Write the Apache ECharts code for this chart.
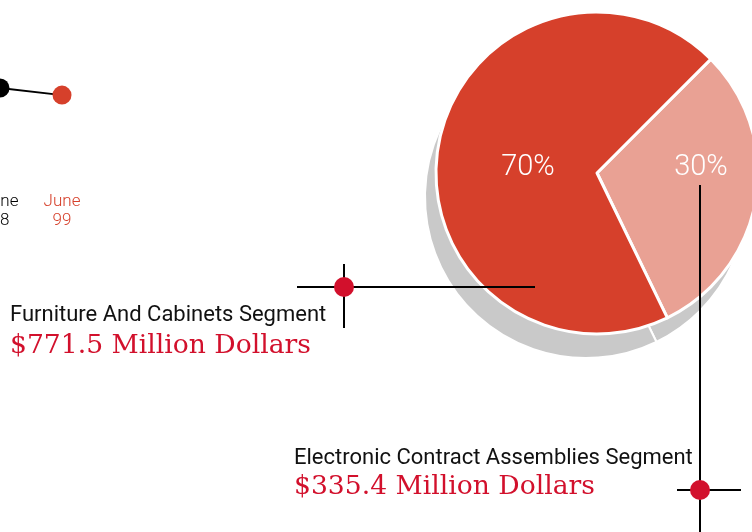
<!DOCTYPE html>
<html>
<head>
<meta charset="utf-8">
<script src="https://cdn.jsdelivr.net/npm/echarts@6/dist/echarts.min.js"></script>
<style>
  html, body { margin: 0; padding: 0; background: #ffffff; }
  #chart { width: 752px; height: 532px; }
</style>
</head>
<body>
<div id="chart"></div>
<script>
// Revenue by business segment, fiscal 1999 (millions of dollars)
const segmentNames = ['Electronic Contract Assemblies Segment', 'Furniture And Cabinets Segment'];
const segmentValues = [335.4, 771.5];
const segmentColors = ['#e9a194', '#d6402b'];

// Trend line tail carried over from the sales chart
const trendLabels = ['June\n98', 'June\n99'];
const trendValues = [1190, 1106.9];
const trendColors = ['#000000', '#d6402b'];

const total = segmentValues.reduce((a, b) => a + b, 0);
const pct = v => Math.round(v / total * 100) + '%';
const money = v => '$' + v.toFixed(1) + ' Million Dollars';

const sans = 'Roboto, "Liberation Sans", sans-serif';
const serif = '"DejaVu Serif", "Liberation Serif", serif';
const accent = '#d2102c';

const pieCenter = [597, 173];
const pieRadius = 161;
const shadowCenter = [586, 197];
const startAngle = 45;

const chart = echarts.init(document.getElementById('chart'));

const lineStyle = { stroke: '#000', lineWidth: 2 };
const dot = (x, y) => ({ type: 'circle', shape: { cx: x, cy: y, r: 10 }, style: { fill: accent }, z: 20 });
const caption = (x, y, text) => ({ type: 'text', x: x, y: y, style: { text: text, fill: '#111', font: '22px ' + sans, verticalAlign: 'top' }, z: 10 });
const amount = (x, y, text) => ({ type: 'text', x: x, y: y, style: { text: text, fill: accent, font: '26.6px ' + serif, verticalAlign: 'top' }, z: 10 });
const pctLabel = (x, y, text) => ({ type: 'text', x: x, y: y, style: { text: text, fill: '#ffffff', font: '300 29px ' + sans, align: 'center', verticalAlign: 'middle' }, z: 30 });

chart.setOption({
  animation: false,
  grid: { left: 0, width: 62, top: 40, height: 150, outerBoundsMode: 'none', containLabel: false },
  xAxis: {
    type: 'category',
    data: trendLabels,
    boundaryGap: false,
    axisLine: { show: false },
    axisTick: { show: false },
    splitLine: { show: false },
    axisLabel: {
      interval: 0,
      hideOverlap: false,
      showMinLabel: true,
      showMaxLabel: true,
      margin: 2,
      fontFamily: sans,
      fontWeight: 300,
      fontSize: 17,
      lineHeight: 19,
      color: (v, i) => trendColors[i]
    }
  },
  yAxis: { type: 'value', min: 0, max: 1750, show: false },
  series: [
    {
      type: 'line',
      clip: false,
      data: trendValues.map((v, i) => ({ value: v, itemStyle: { color: trendColors[i] } })),
      symbol: 'circle',
      symbolSize: 19,
      showSymbol: true,
      showAllSymbol: true,
      lineStyle: { color: '#000', width: 2 },
      z: 3
    },
    {
      // drop shadow under the pie
      type: 'pie',
      silent: true,
      center: shadowCenter,
      radius: pieRadius,
      startAngle: startAngle,
      label: { show: false },
      itemStyle: { color: '#c9c9c9', borderColor: '#ffffff', borderWidth: 2 },
      data: segmentValues.map((v, i) => ({ name: segmentNames[i], value: v })),
      z: 1
    },
    {
      type: 'pie',
      center: pieCenter,
      radius: pieRadius,
      startAngle: startAngle,
      label: { show: false },
      itemStyle: { borderColor: '#ffffff', borderWidth: 3 },
      data: segmentValues.map((v, i) => ({ name: segmentNames[i], value: v, itemStyle: { color: segmentColors[i] } })),
      z: 2
    }
  ],
  graphic: [
    // percentage labels inside the slices
    pctLabel(701, 168, pct(segmentValues[0])),
    pctLabel(528, 168, pct(segmentValues[1])),

    // furniture callout
    { type: 'line', shape: { x1: 297, y1: 287, x2: 535, y2: 287 }, style: lineStyle, z: 10 },
    { type: 'line', shape: { x1: 344, y1: 264, x2: 344, y2: 328 }, style: lineStyle, z: 10 },
    dot(344, 287),
    caption(10, 304, segmentNames[1]),
    amount(10, 333, money(segmentValues[1])),

    // electronics callout
    { type: 'line', shape: { x1: 700, y1: 185, x2: 700, y2: 532 }, style: lineStyle, z: 10 },
    { type: 'line', shape: { x1: 677, y1: 490, x2: 741, y2: 490 }, style: lineStyle, z: 10 },
    dot(700, 490),
    caption(294, 447, segmentNames[0]),
    amount(294, 474, money(segmentValues[0]))
  ]
});
</script>
</body>
</html>
